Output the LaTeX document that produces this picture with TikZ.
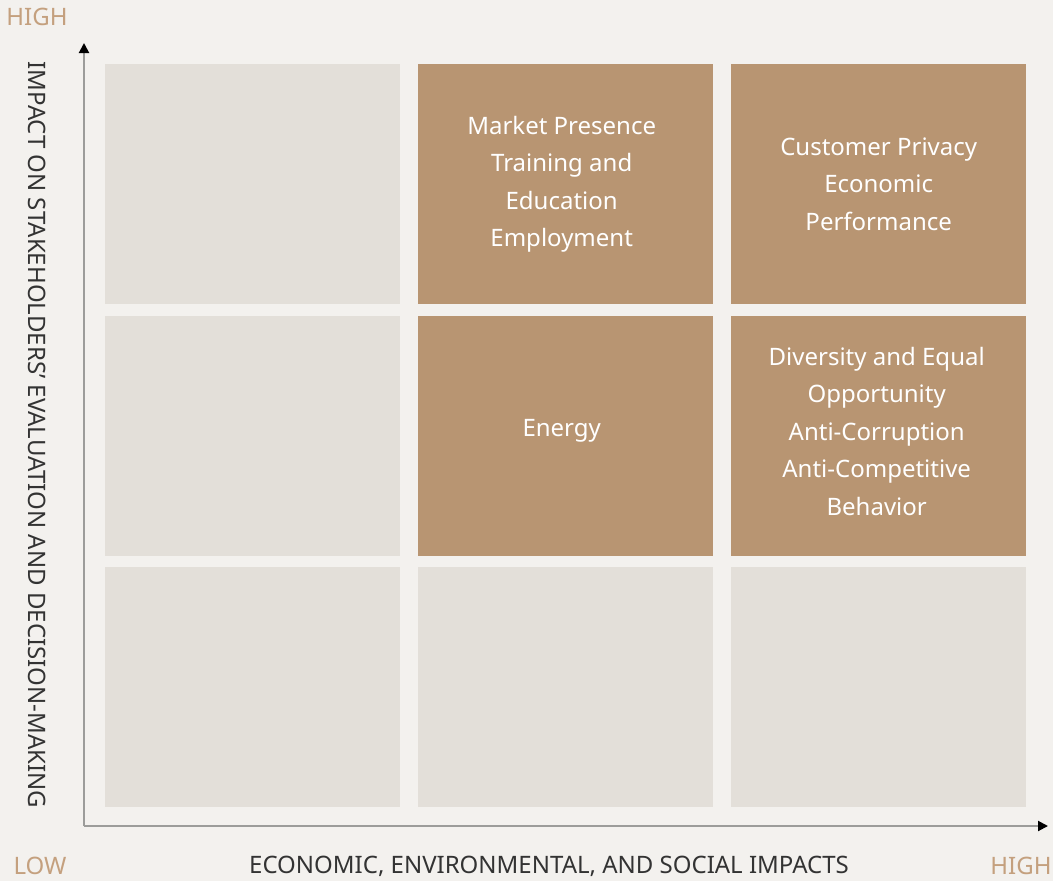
\documentclass[tikz,border=0pt]{standalone}
\usepackage{fontspec}
\setmainfont{Noto Sans}
\usetikzlibrary{arrows.meta}
\definecolor{bg}{HTML}{F3F1EE}
\definecolor{lightcell}{HTML}{E3DFD9}
\definecolor{browncell}{HTML}{B89572}
\definecolor{axislbl}{HTML}{C4A07E}
\definecolor{axisline}{HTML}{9C9C9A}
\definecolor{txtdark}{HTML}{333333}
\tikzset{
  cell/.style={draw=none, inner sep=0pt, minimum width=295pt, minimum height=240pt, anchor=north west},
  lcell/.style={cell, fill=lightcell},
  bcell/.style={cell, fill=browncell},
  celltext/.style={text=white, align=center, inner sep=0pt, font=\fontsize{24}{37.5}\selectfont},
  axis/.style={draw=axisline, line width=2pt, -{Triangle[length=10pt,width=10pt,fill=black,color=black]}},
  endlbl/.style={text=axislbl, font=\fontsize{24}{28}\selectfont, inner sep=0pt},
  titlelbl/.style={text=txtdark, font=\fontsize{24}{28}\selectfont, inner sep=0pt},
}
\begin{document}
\begin{tikzpicture}[x=1pt,y=-1pt]
\useasboundingbox (0,0) rectangle (1053,881);
\fill[bg] (0,0) rectangle (1053,881);
% row 1
\node[lcell] (c11) at (105,64) {};
\node[bcell] (c12) at (418,64) {};
\node[bcell] (c13) at (731,64) {};
% row 2
\node[lcell] (c21) at (105,316) {};
\node[bcell] (c22) at (418,316) {};
\node[bcell] (c23) at (731,316) {};
% row 3
\node[lcell] (c31) at (105,567) {};
\node[lcell] (c32) at (418,567) {};
\node[lcell] (c33) at (731,567) {};
% cell texts
\node[celltext, xshift=-4pt] (t12) at (c12.center) {Market Presence\\Training and\\Education\\Employment};
\node[celltext] (t13) at (c13.center) {Customer Privacy\\Economic\\Performance};
\node[celltext, xshift=-4pt, yshift=5pt] (t22) at (c22.center) {Energy};
\node[celltext, xshift=-2pt, yshift=5pt] (t23) at (c23.center) {Diversity and Equal\\Opportunity\\Anti-Corruption\\Anti-Competitive\\Behavior};
% axes
\coordinate (origin) at (84,826);
\coordinate (ytip) at (84,43);
\coordinate (xtip) at (1048,826);
\draw[axis] (origin) -- (ytip);
\draw[axis] (origin) -- (xtip);
% labels
\node[endlbl] (yhigh) at (37,17) {HIGH};
\node[endlbl] (xlow) at (40,866) {LOW};
\node[endlbl] (xhigh) at (1021,866) {HIGH};
\node[titlelbl] (xtitle) at (549,866) {ECONOMIC, ENVIRONMENTAL, AND SOCIAL IMPACTS};
\node[titlelbl, rotate=-90] (ytitle) at (37,435) {IMPACT ON STAKEHOLDERS’ EVALUATION AND DECISION-MAKING};
\end{tikzpicture}
\end{document}
